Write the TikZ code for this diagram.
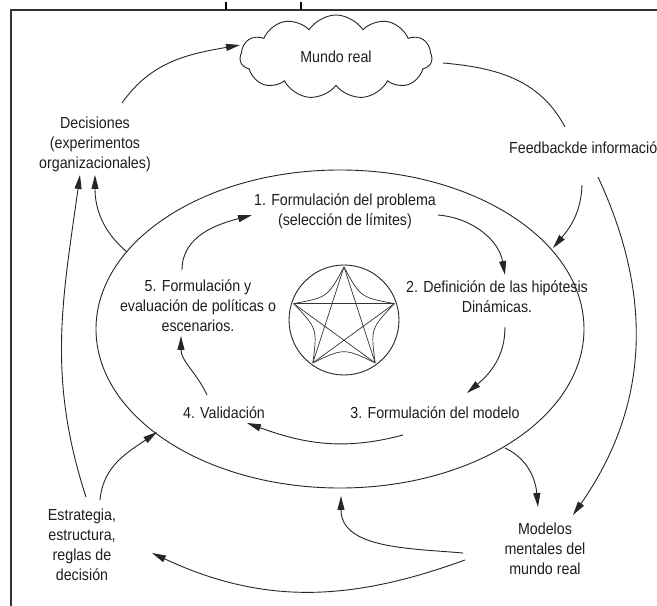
\documentclass[tikz,border=0pt]{standalone}
\usepackage{fontspec}
\setmainfont{Liberation Sans}[FakeStretch=0.89]
\usetikzlibrary{arrows.meta,shapes.symbols,shapes.geometric}
\begin{document}
\begin{tikzpicture}[x=1pt,y=1pt,
  lbl/.style={font=\fontsize{16}{20}\selectfont, text=black!88, align=center, inner sep=1pt},
  conn/.style={line width=0.9pt, draw=black!85},
  arr/.style={conn, -{Triangle[length=14pt,width=7pt]}},
]
\useasboundingbox (0,0) rectangle (657,606);
\clip (0,0) rectangle (657,606);
\fill[white] (0,0) rectangle (657,606);

% frame
\draw[line width=1.4pt, black!80] (11,0) -- (11,596) -- (657,596);
\draw[line width=1.2pt] (226,596) -- (226,604) (301,596) -- (301,604);

% real world
\node[cloud, cloud puffs=11, cloud puff arc=115, aspect=2.4,
      minimum width=192pt, minimum height=84pt, conn, lbl] (mundo) at (336,549) {Mundo real};

% outer texts
\node[lbl] (decis) at (95,462) {Decisiones\\(experimentos\\organizacionales)};
\node[lbl, anchor=west] (feedback) at (508,458) {Feedbackde información};
\node[lbl] (modelos) at (545,57) {Modelos\\mentales del\\mundo real};
\node[lbl] (estrat) at (82,61) {Estrategia,\\estructura,\\reglas de\\decisión};

% modelling cycle
\node[ellipse, conn, minimum width=488pt, minimum height=318pt] (ciclo) at (340,277) {};
\node[lbl] (paso1) at (345,395) {1. Formulación del problema\\(selección de límites)};
\node[lbl] (paso2) at (497,309) {2. Definición de las hipótesis\\Dinámicas.};
\node[lbl] (paso3) at (435,193) {3. Formulación del modelo};
\node[lbl] (paso4) at (224,193) {4. Validación};
\node[lbl] (paso5) at (198,300) {5. Formulación y\\evaluación de políticas o\\escenarios.};

% emblem: circle with pentagram and cusped arcs
\node[circle, conn, minimum size=110pt, inner sep=0pt] (emblema) at (344,286) {};
\begin{scope}[shift={(emblema.center)}, line width=0.7pt, black!80]
  \foreach \k in {0,...,4} {
    \draw (90+72*\k:53) -- (90+72*\k+144:53);
    \draw (90+72*\k:53) .. controls (90+72*\k+36:28) .. (90+72*\k+72:53);
  }
\end{scope}

% arrow end points
\coordinate (a1s) at (122,503);  \coordinate (a1e) at (240,561);
\coordinate (a2s) at (443,543);  \coordinate (a2e) at (565,479);
\coordinate (a3s) at (582,421);  \coordinate (a3e) at (553,358);
\coordinate (a4s) at (598,429);  \coordinate (a4e) at (573,91);
\coordinate (a5s) at (505,158);  \coordinate (a5e) at (538,99);
\coordinate (a6s) at (463,53);   \coordinate (a6e) at (341,110);
\coordinate (a7s) at (465,46);   \coordinate (a7e) at (152,53);
\coordinate (a8s) at (100,106);  \coordinate (a8e) at (157,174);
\coordinate (a9s) at (86,109);   \coordinate (a9e) at (80,431);
\coordinate (a10s) at (127,354); \coordinate (a10e) at (95,431);

\coordinate (i1s) at (182,336);  \coordinate (i1e) at (252,391);
\coordinate (i2s) at (438,391);  \coordinate (i2e) at (505,331);
\coordinate (i3s) at (505,279);  \coordinate (i3e) at (467,213);
\coordinate (i4s) at (403,171);  \coordinate (i4e) at (247,183);
\coordinate (i5s) at (207,211);  \coordinate (i5e) at (181,270);

% outer loop
\draw[arr] (a1s) to[out=55,in=190] (a1e);
\draw[conn] (a2s) to[out=-5,in=118] (a2e);
\draw[arr] (a3s) to[out=-92,in=50] (a3e);
\draw[arr] (a4s) to[out=-65,in=55] (a4e);
\draw[arr] (a5s) to[out=-25,in=95] (a5e);
\draw[arr] (a6s) to[out=175,in=-90] (a6e);
\draw[arr] (a7s) to[out=200,in=-25] (a7e);
\draw[arr] (a8s) to[out=85,in=215] (a8e);
\draw[arr] (a9s) to[out=108,in=-98] (a9e);
\draw[arr] (a10s) to[out=140,in=-90] (a10e);

% inner loop
\draw[arr] (i1s) to[out=90,in=195] (i1e);
\draw[arr] (i2s) to[out=-5,in=100] (i2e);
\draw[arr] (i3s) to[out=-90,in=40] (i3e);
\draw[arr] (i4s) to[out=195,in=-20] (i4e);
\draw[arr] (i5s) to[out=115,in=-90] (i5e);
\end{tikzpicture}
\end{document}
